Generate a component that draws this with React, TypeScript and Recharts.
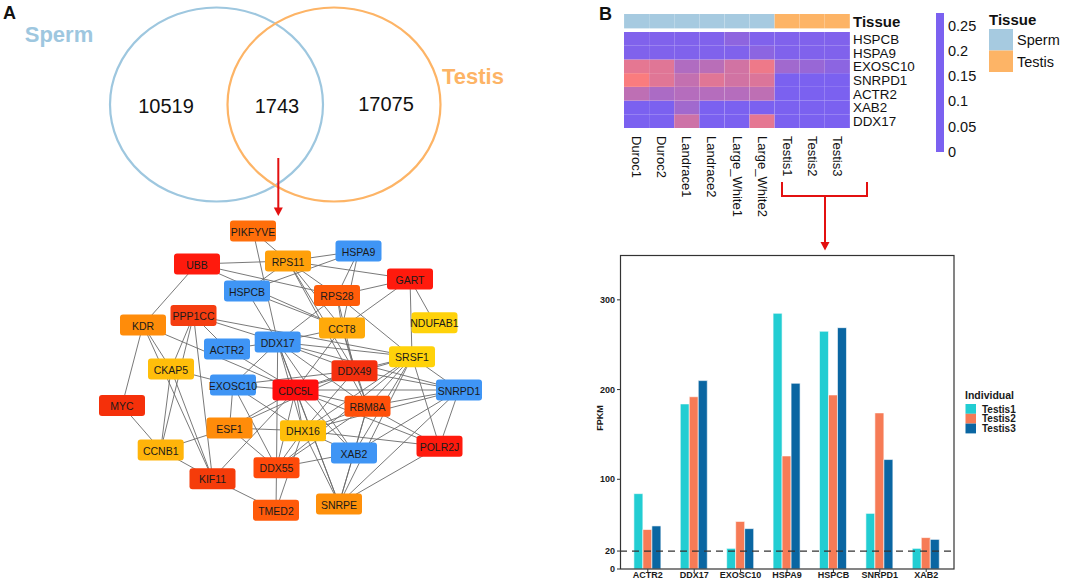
import React from 'react';
import { ScatterChart, Scatter, XAxis, YAxis, ReferenceLine, BarChart, Bar, Cell } from 'recharts';

const FONT = '"Liberation Sans", Arial, Helvetica, sans-serif';

// ---------------- Panel A : Venn ----------------
const vennSetNames = ['Sperm', 'Testis'];
const vennSetColors = ['#9EC7DF', '#FDB466'];
const vennCenterX = [216.5, 334];
const vennCenterY = [104.5, 104.5];
const vennRadiusX = [106.5, 106.5];
const vennRadiusY = [97, 97];
const vennNameX = [59, 473];
const vennNameY = [34, 76];
const vennCounts = ['10519', '1743', '17075'];
const vennCountX = [166, 277, 386];
const vennCountY = [106, 106, 104];

// ---------------- Panel A : PPI network ----------------
const BLUE = '#3F95F5';
const netNodes = [
  { id: 'PIKFYVE', x: 253, y: 231, color: '#FF6E0A' },
  { id: 'UBB', x: 197, y: 264, color: '#FF1A0D' },
  { id: 'RPS11', x: 288, y: 261, color: '#FFA00A' },
  { id: 'HSPA9', x: 358.5, y: 251, color: BLUE },
  { id: 'GART', x: 410, y: 279, color: '#FF1A0D' },
  { id: 'HSPCB', x: 247, y: 291, color: BLUE },
  { id: 'RPS28', x: 337, y: 295.5, color: '#FF5C0A' },
  { id: 'PPP1CC', x: 193.5, y: 315.5, color: '#F53D10' },
  { id: 'KDR', x: 143, y: 325, color: '#FF8C0A' },
  { id: 'CCT8', x: 342, y: 328, color: '#FFAA0A' },
  { id: 'NDUFAB1', x: 434.5, y: 322.7, color: '#FFD20A' },
  { id: 'ACTR2', x: 227, y: 349, color: BLUE },
  { id: 'DDX17', x: 277.7, y: 342, color: BLUE },
  { id: 'SRSF1', x: 412, y: 356.7, color: '#FFD20A' },
  { id: 'CKAP5', x: 171, y: 369, color: '#FFBE0A' },
  { id: 'DDX49', x: 354.5, y: 370.7, color: '#F5300E' },
  { id: 'EXOSC10', x: 233, y: 385, color: BLUE },
  { id: 'CDC5L', x: 295.5, y: 390, color: '#FF0D0D' },
  { id: 'SNRPD1', x: 459, y: 390, color: BLUE },
  { id: 'RBM8A', x: 367.5, y: 406.3, color: '#FF500A' },
  { id: 'MYC', x: 122, y: 405.5, color: '#F5300A' },
  { id: 'ESF1', x: 229.5, y: 428, color: '#FF8C0A' },
  { id: 'DHX16', x: 303, y: 430.7, color: '#FFBE0A' },
  { id: 'XAB2', x: 354, y: 453, color: BLUE },
  { id: 'POLR2J', x: 439.5, y: 446.3, color: '#FF1A0D' },
  { id: 'CCNB1', x: 160.7, y: 450, color: '#FFB40A' },
  { id: 'DDX55', x: 276.5, y: 467.7, color: '#FF4A0A' },
  { id: 'KIF11', x: 212.5, y: 478.7, color: '#F53C0A' },
  { id: 'TMED2', x: 276, y: 510.3, color: '#FF5A0A' },
  { id: 'SNRPE', x: 339, y: 504, color: '#FF900A' },
];

const netEdges: [string, string][] = [
  ['PIKFYVE', 'RPS11'], ['PIKFYVE', 'DDX17'],
  ['UBB', 'KDR'], ['UBB', 'RPS11'], ['UBB', 'RPS28'], ['UBB', 'CCT8'],
  ['RPS11', 'HSPA9'], ['RPS11', 'GART'], ['RPS11', 'HSPCB'], ['RPS11', 'CCT8'], ['RPS11', 'DDX49'], ['RPS11', 'RBM8A'], ['RPS11', 'RPS28'],
  ['HSPA9', 'RPS28'], ['HSPA9', 'CCT8'], ['HSPA9', 'HSPCB'],
  ['GART', 'RPS28'], ['GART', 'CCT8'], ['GART', 'SRSF1'], ['GART', 'NDUFAB1'],
  ['HSPCB', 'DDX17'], ['HSPCB', 'CCT8'],
  ['RPS28', 'DDX17'], ['RPS28', 'CCT8'], ['RPS28', 'SRSF1'], ['RPS28', 'DDX49'],
  ['CCT8', 'DDX17'], ['CCT8', 'DDX49'], ['CCT8', 'RBM8A'], ['CCT8', 'CDC5L'],
  ['PPP1CC', 'DDX17'], ['PPP1CC', 'ACTR2'], ['PPP1CC', 'CKAP5'], ['PPP1CC', 'KIF11'], ['PPP1CC', 'CCNB1'], ['PPP1CC', 'SRSF1'],
  ['KDR', 'MYC'], ['KDR', 'CKAP5'], ['KDR', 'CDC5L'], ['KDR', 'KIF11'],
  ['ACTR2', 'DDX17'], ['ACTR2', 'CDC5L'],
  ['CKAP5', 'EXOSC10'], ['CKAP5', 'KIF11'], ['CKAP5', 'CCNB1'],
  ['EXOSC10', 'CDC5L'], ['EXOSC10', 'DDX17'], ['EXOSC10', 'ESF1'], ['EXOSC10', 'DHX16'], ['EXOSC10', 'DDX49'], ['EXOSC10', 'DDX55'],
  ['MYC', 'CCNB1'],
  ['CCNB1', 'ESF1'], ['CCNB1', 'KIF11'],
  ['KIF11', 'TMED2'], ['KIF11', 'CDC5L'],
  ['ESF1', 'DHX16'], ['ESF1', 'DDX55'], ['ESF1', 'CDC5L'], ['ESF1', 'DDX49'],
  ['DDX55', 'TMED2'], ['DDX55', 'CDC5L'], ['DDX55', 'DDX17'], ['DDX55', 'DHX16'], ['DDX55', 'XAB2'], ['DDX55', 'RBM8A'], ['DDX55', 'SRSF1'],
  ['TMED2', 'DHX16'],
  ['DHX16', 'CDC5L'], ['DHX16', 'DDX17'], ['DHX16', 'SRSF1'], ['DHX16', 'RBM8A'], ['DHX16', 'POLR2J'], ['DHX16', 'SNRPE'], ['DHX16', 'XAB2'], ['DHX16', 'DDX49'], ['DHX16', 'SNRPD1'],
  ['SNRPE', 'CDC5L'], ['SNRPE', 'DDX17'], ['SNRPE', 'XAB2'], ['SNRPE', 'RBM8A'], ['SNRPE', 'SRSF1'], ['SNRPE', 'SNRPD1'], ['SNRPE', 'POLR2J'],
  ['XAB2', 'CDC5L'], ['XAB2', 'SRSF1'], ['XAB2', 'SNRPD1'], ['XAB2', 'RBM8A'], ['XAB2', 'DDX17'],
  ['POLR2J', 'SRSF1'], ['POLR2J', 'SNRPD1'], ['POLR2J', 'CDC5L'], ['POLR2J', 'RBM8A'],
  ['SNRPD1', 'SRSF1'], ['SNRPD1', 'CDC5L'], ['SNRPD1', 'DDX17'], ['SNRPD1', 'RBM8A'], ['SNRPD1', 'DDX49'],
  ['RBM8A', 'CDC5L'], ['RBM8A', 'DDX17'], ['RBM8A', 'SRSF1'], ['RBM8A', 'DDX49'],
  ['DDX49', 'CDC5L'], ['DDX49', 'DDX17'], ['DDX49', 'SRSF1'],
  ['CDC5L', 'DDX17'], ['CDC5L', 'SRSF1'],
  ['DDX17', 'SRSF1'],
];

// ---------------- Panel B : heatmap ----------------
const heatSamples = ['Duroc1', 'Duroc2', 'Landrace1', 'Landrace2', 'Large_White1', 'Large_White2', 'Testis1', 'Testis2', 'Testis3'];
const heatTissue = ['Sperm', 'Sperm', 'Sperm', 'Sperm', 'Sperm', 'Sperm', 'Testis', 'Testis', 'Testis'];
const heatGenes = ['HSPCB', 'HSPA9', 'EXOSC10', 'SNRPD1', 'ACTR2', 'XAB2', 'DDX17'];
const heatHSPCB = [0.01, 0.01, 0.01, 0.01, 0.04, 0.01, 0.01, 0.01, 0.01];
const heatHSPA9 = [0.01, 0.01, 0.01, 0.01, 0.01, 0.035, 0.01, 0.01, 0.01];
const heatEXOSC10 = [0.22, 0.21, 0.11, 0.13, 0.18, 0.24, 0.08, 0.06, 0.035];
const heatSNRPD1 = [0.265, 0.21, 0.15, 0.21, 0.18, 0.2, 0.0, 0.0, 0.0];
const heatACTR2 = [0.14, 0.1, 0.12, 0.12, 0.12, 0.14, 0.0, 0.0, 0.0];
const heatXAB2 = [0.0, 0.0, 0.08, 0.0, 0.0, 0.0, 0.0, 0.0, 0.0];
const heatDDX17 = [0.0, 0.0, 0.17, 0.0, 0.0, 0.22, 0.0, 0.0, 0.0];
const heatRows = [heatHSPCB, heatHSPA9, heatEXOSC10, heatSNRPD1, heatACTR2, heatXAB2, heatDDX17];
const heatScaleTicks = [0, 0.05, 0.1, 0.15, 0.2, 0.25];
const tissueNames = ['Sperm', 'Testis'];
const tissueColors = ['#A6CAE0', '#FDB466'];

// ---------------- Panel B : bar chart ----------------
const barGenes = ['ACTR2', 'DDX17', 'EXOSC10', 'HSPA9', 'HSPCB', 'SNRPD1', 'XAB2'];
const testis1 = [84, 184, 23, 285, 265, 62, 23];
const testis2 = [44, 192, 53, 126, 194, 174, 35];
const testis3 = [48, 210, 45, 207, 269, 122, 33];
const barSeries = ['Testis1', 'Testis2', 'Testis3'];
const barColors = ['#22CDD2', '#F67B56', '#0A66A2'];
const fpkmTicks = [0, 20, 100, 200, 300];
const fpkmCutoff = 20;

// ---------- derived ----------
const LOW = [123, 97, 240];
const HIGH = [255, 125, 122];
const HMAX = 0.275;
function heatColor(v: number) {
  const t = Math.max(0, Math.min(1, v / HMAX));
  const c = LOW.map((l, i) => Math.round(l + (HIGH[i] - l) * t));
  return `rgb(${c[0]},${c[1]},${c[2]})`;
}

const vennData = vennSetNames.map((n, i) => ({ name: n, x: vennCenterX[i], y: vennCenterY[i], rx: vennRadiusX[i], ry: vennRadiusY[i], color: vennSetColors[i] }));
const vennNameData = vennSetNames.map((n, i) => ({ label: n, x: vennNameX[i], y: vennNameY[i], color: vennSetColors[i] }));
const vennCountData = vennCounts.map((n, i) => ({ label: n, x: vennCountX[i], y: vennCountY[i] }));
const nodeById: Record<string, { x: number; y: number }> = {};
netNodes.forEach((n) => (nodeById[n.id] = n));

const heatData = heatSamples.map((s, j) => {
  const row: any = { sample: s, tissue: heatTissue[j], one: 1 };
  heatGenes.forEach((g) => (row[g] = 1));
  return row;
});
const heatGenesBottomUp = [...heatGenes].reverse();

const barData = barGenes.map((g, i) => ({ gene: g, Testis1: testis1[i], Testis2: testis2[i], Testis3: testis3[i] }));

const VennShape = (p: any) => (
  <ellipse cx={p.cx} cy={p.cy} rx={p.payload.rx} ry={p.payload.ry} fill="none" stroke={p.payload.color} strokeWidth={2.2} />
);
const VennNameShape = (p: any) => (
  <text x={p.cx} y={p.cy} textAnchor="middle" dominantBaseline="central" fontFamily={FONT} fontWeight="bold" fontSize={22} fill={p.payload.color}>{p.payload.label}</text>
);
const VennCountShape = (p: any) => (
  <text x={p.cx} y={p.cy} textAnchor="middle" dominantBaseline="central" fontFamily={FONT} fontSize={20} fill="#111">{p.payload.label}</text>
);
const NodeShape = (p: any) => (
  <g>
    <rect x={p.cx - 23} y={p.cy - 10.5} width={46} height={21} rx={3} ry={3} fill={p.payload.color} />
    <text x={p.cx} y={p.cy + 0.5} textAnchor="middle" dominantBaseline="central" fontFamily={FONT} fontSize={10.5} fill="#1a1a1a">{p.payload.id}</text>
  </g>
);

const HeatXTick = (p: any) => (
  <text transform={`translate(${p.x},${p.y + 8}) rotate(90)`} textAnchor="start" dominantBaseline="central" fontFamily={FONT} fontSize={13} fill="#111">{p.payload.value}</text>
);
const HeatYTick = (p: any) => (
  <text x={p.x + 3} y={p.y + 0.5} textAnchor="start" dominantBaseline="central" fontFamily={FONT} fontSize={13.4} fill="#111">{heatGenesBottomUp[Math.floor(p.payload.value)]}</text>
);
const BarXTick = (p: any) => (
  <text x={p.x} y={p.y} dy="0.71em" textAnchor="middle" fontFamily={FONT} fontWeight="bold" fontSize={9} fill="#1a1a1a">{p.payload.value}</text>
);
const BarYTick = (p: any) => (
  <text x={p.x} y={p.y} textAnchor="end" dominantBaseline="central" fontFamily={FONT} fontWeight="bold" fontSize={9} fill="#1a1a1a">{p.payload.value}</text>
);

const W_A = 560;
const H_A = 581;

export default function App() {
  const cbTop = 13;
  const cbBottom = 152;
  const cbPx = (v: number) => cbBottom - (v / HMAX) * (cbBottom - cbTop);
  const gradStops = [0, 0.25, 0.5, 0.75, 1].map((t) => ({ off: 1 - t, color: heatColor(t * HMAX) }));
  return (
    <div style={{ position: 'absolute', left: 0, top: 0, width: 1065, height: 581, background: '#fff', overflow: 'hidden', fontFamily: FONT }}>
      {/* Panel A: Venn + edges */}
      <div style={{ position: 'absolute', left: 0, top: 0 }}>
        <ScatterChart width={W_A} height={H_A} margin={{ top: 0, right: 0, bottom: 0, left: 0 }}>
          <XAxis type="number" dataKey="x" domain={[0, W_A]} hide />
          <YAxis type="number" dataKey="y" domain={[0, H_A]} reversed hide />
          {netEdges.map(([a, b], i) => (
            <ReferenceLine
              key={i}
              segment={[{ x: nodeById[a].x, y: nodeById[a].y }, { x: nodeById[b].x, y: nodeById[b].y }]}
              stroke="#6a6a6a"
              strokeWidth={0.9}
              ifOverflow="visible"
            />
          ))}
          <Scatter data={vennData} shape={VennShape} isAnimationActive={false} />
        </ScatterChart>
      </div>
      {/* Panel A: nodes + labels */}
      <div style={{ position: 'absolute', left: 0, top: 0 }}>
        <ScatterChart width={W_A} height={H_A} margin={{ top: 0, right: 0, bottom: 0, left: 0 }}>
          <XAxis type="number" dataKey="x" domain={[0, W_A]} hide />
          <YAxis type="number" dataKey="y" domain={[0, H_A]} reversed hide />
          <Scatter data={netNodes} shape={NodeShape} isAnimationActive={false} />
          <Scatter data={vennNameData} shape={VennNameShape} isAnimationActive={false} />
          <Scatter data={vennCountData} shape={VennCountShape} isAnimationActive={false} />
        </ScatterChart>
      </div>

      {/* Panel B: tissue annotation */}
      <div style={{ position: 'absolute', left: 624.3, top: 14.4 }}>
        <BarChart width={226} height={14.4} data={heatData} margin={{ top: 0, right: 0, bottom: 0, left: 0 }} barCategoryGap={0} barGap={0}>
          <XAxis dataKey="sample" hide />
          <YAxis type="number" domain={[0, 1]} hide />
          <Bar dataKey="one" isAnimationActive={false}>
            {heatData.map((d, j) => (
              <Cell key={j} fill={tissueColors[tissueNames.indexOf(d.tissue)]} />
            ))}
          </Bar>
        </BarChart>
      </div>

      {/* Panel B: heatmap */}
      <div style={{ position: 'absolute', left: 624.3, top: 31.7 }}>
        <BarChart width={306} height={186} data={heatData} margin={{ top: 0, right: 0, bottom: 0, left: 0 }} barCategoryGap={0} barGap={0}>
          <XAxis dataKey="sample" type="category" height={90} tickSize={0} tickMargin={0} axisLine={false} tickLine={false} interval={0} tick={<HeatXTick />} />
          <YAxis
            type="number"
            orientation="right"
            domain={[0, 7]}
            ticks={[0.5, 1.5, 2.5, 3.5, 4.5, 5.5, 6.5]}
            interval={0}
            width={80}
            tickSize={0}
            tickMargin={0}
            axisLine={false}
            tickLine={false}
            tick={<HeatYTick />}
            allowDataOverflow
          />
          {heatGenesBottomUp.map((g) => {
            const gi = heatGenes.indexOf(g);
            return (
              <Bar key={g} dataKey={g} stackId="h" isAnimationActive={false}>
                {heatSamples.map((s, j) => (
                  <Cell key={s} fill={heatColor(heatRows[gi][j])} />
                ))}
              </Bar>
            );
          })}
        </BarChart>
      </div>

      {/* Panel B: bar chart */}
      <div style={{ position: 'absolute', left: 560, top: 240 }}>
        <BarChart width={505} height={341} data={barData} margin={{ top: 15, right: 111, bottom: 0, left: 20 }} barCategoryGap="20%" barGap={0}>
          <XAxis dataKey="gene" height={12} tickSize={3} tickMargin={0} axisLine={false} tickLine={{ stroke: '#333' }} interval={0} padding={{ left: 4.6, right: 4.6 }} tick={<BarXTick />} />
          <YAxis type="number" domain={[0, 350]} ticks={fpkmTicks} interval={0} width={40} tickSize={3} tickMargin={2} axisLine={false} tickLine={{ stroke: '#333' }} tick={<BarYTick />} allowDataOverflow />
          {barSeries.map((s, i) => (
            <Bar key={s} dataKey={s} fill={barColors[i]} stroke="#fff" strokeWidth={0.6} isAnimationActive={false} />
          ))}
          <ReferenceLine y={fpkmCutoff} stroke="#333" strokeWidth={1.2} strokeDasharray="7 5" ifOverflow="visible" />
        </BarChart>
      </div>

      {/* annotations */}
      <svg width={1065} height={581} style={{ position: 'absolute', left: 0, top: 0, pointerEvents: 'none' }}>
        <defs>
          <linearGradient id="cbgrad" x1="0" y1="0" x2="0" y2="1">
            {gradStops.map((s, i) => (
              <stop key={i} offset={s.off} stopColor={s.color} />
            ))}
          </linearGradient>
        </defs>
        <text x={3} y={19} fontFamily={FONT} fontWeight="bold" fontSize={18} fill="#111">A</text>
        <text x={599} y={20} fontFamily={FONT} fontWeight="bold" fontSize={18} fill="#111">B</text>

        {/* arrow Venn -> network */}
        <line x1={278.3} y1={158} x2={278.3} y2={209} stroke="#E31010" strokeWidth={2} />
        <polygon points="273.8,207.5 282.8,207.5 278.3,216" fill="#E31010" />

        {/* bracket & arrow heatmap -> bars */}
        <polyline points="782,182 782,196 867,196 867,182" fill="none" stroke="#E31010" strokeWidth={2} />
        <line x1={825} y1={196} x2={825} y2={243} stroke="#E31010" strokeWidth={2} />
        <polygon points="820.5,242 829.5,242 825,250.5" fill="#E31010" />

        {/* heatmap annotation label */}
        <text x={853} y={21.5} dominantBaseline="central" fontFamily={FONT} fontWeight="bold" fontSize={15} fill="#111">Tissue</text>

        {/* colour bar */}
        <rect x={936} y={cbTop} width={8} height={cbBottom - cbTop} fill="url(#cbgrad)" />
        {heatScaleTicks.map((v) => (
          <text key={v} x={948} y={cbPx(v)} dominantBaseline="central" fontFamily={FONT} fontSize={14.5} fill="#111">{String(v)}</text>
        ))}

        {/* tissue legend */}
        <text x={989} y={19} dominantBaseline="central" fontFamily={FONT} fontWeight="bold" fontSize={15} fill="#111">Tissue</text>
        {tissueNames.map((t, i) => (
          <g key={t}>
            <rect x={989} y={29 + i * 21.5} width={24} height={21.5} fill={tissueColors[i]} />
            <text x={1017} y={40 + i * 21.5} dominantBaseline="central" fontFamily={FONT} fontSize={14.5} fill="#111">{t}</text>
          </g>
        ))}

        {/* bar panel frame and y label */}
        <rect x={620.5} y={255.5} width={333.5} height={313.5} fill="none" stroke="#333" strokeWidth={1.2} />
        <text transform="translate(600,418) rotate(-90)" textAnchor="middle" dominantBaseline="central" fontFamily={FONT} fontWeight="bold" fontSize={9} fill="#1a1a1a">FPKM</text>

        {/* bar legend */}
        <text x={965} y={395} dominantBaseline="central" fontFamily={FONT} fontWeight="bold" fontSize={10.5} fill="#1a1a1a">Individual</text>
        {barSeries.map((s, i) => (
          <g key={s}>
            <rect x={965.5} y={404 + i * 9.8} width={10.5} height={9.8} fill={barColors[i]} />
            <text x={982} y={409 + i * 9.8} dominantBaseline="central" fontFamily={FONT} fontWeight="bold" fontSize={10} fill="#1a1a1a">{s}</text>
          </g>
        ))}
      </svg>
    </div>
  );
}
